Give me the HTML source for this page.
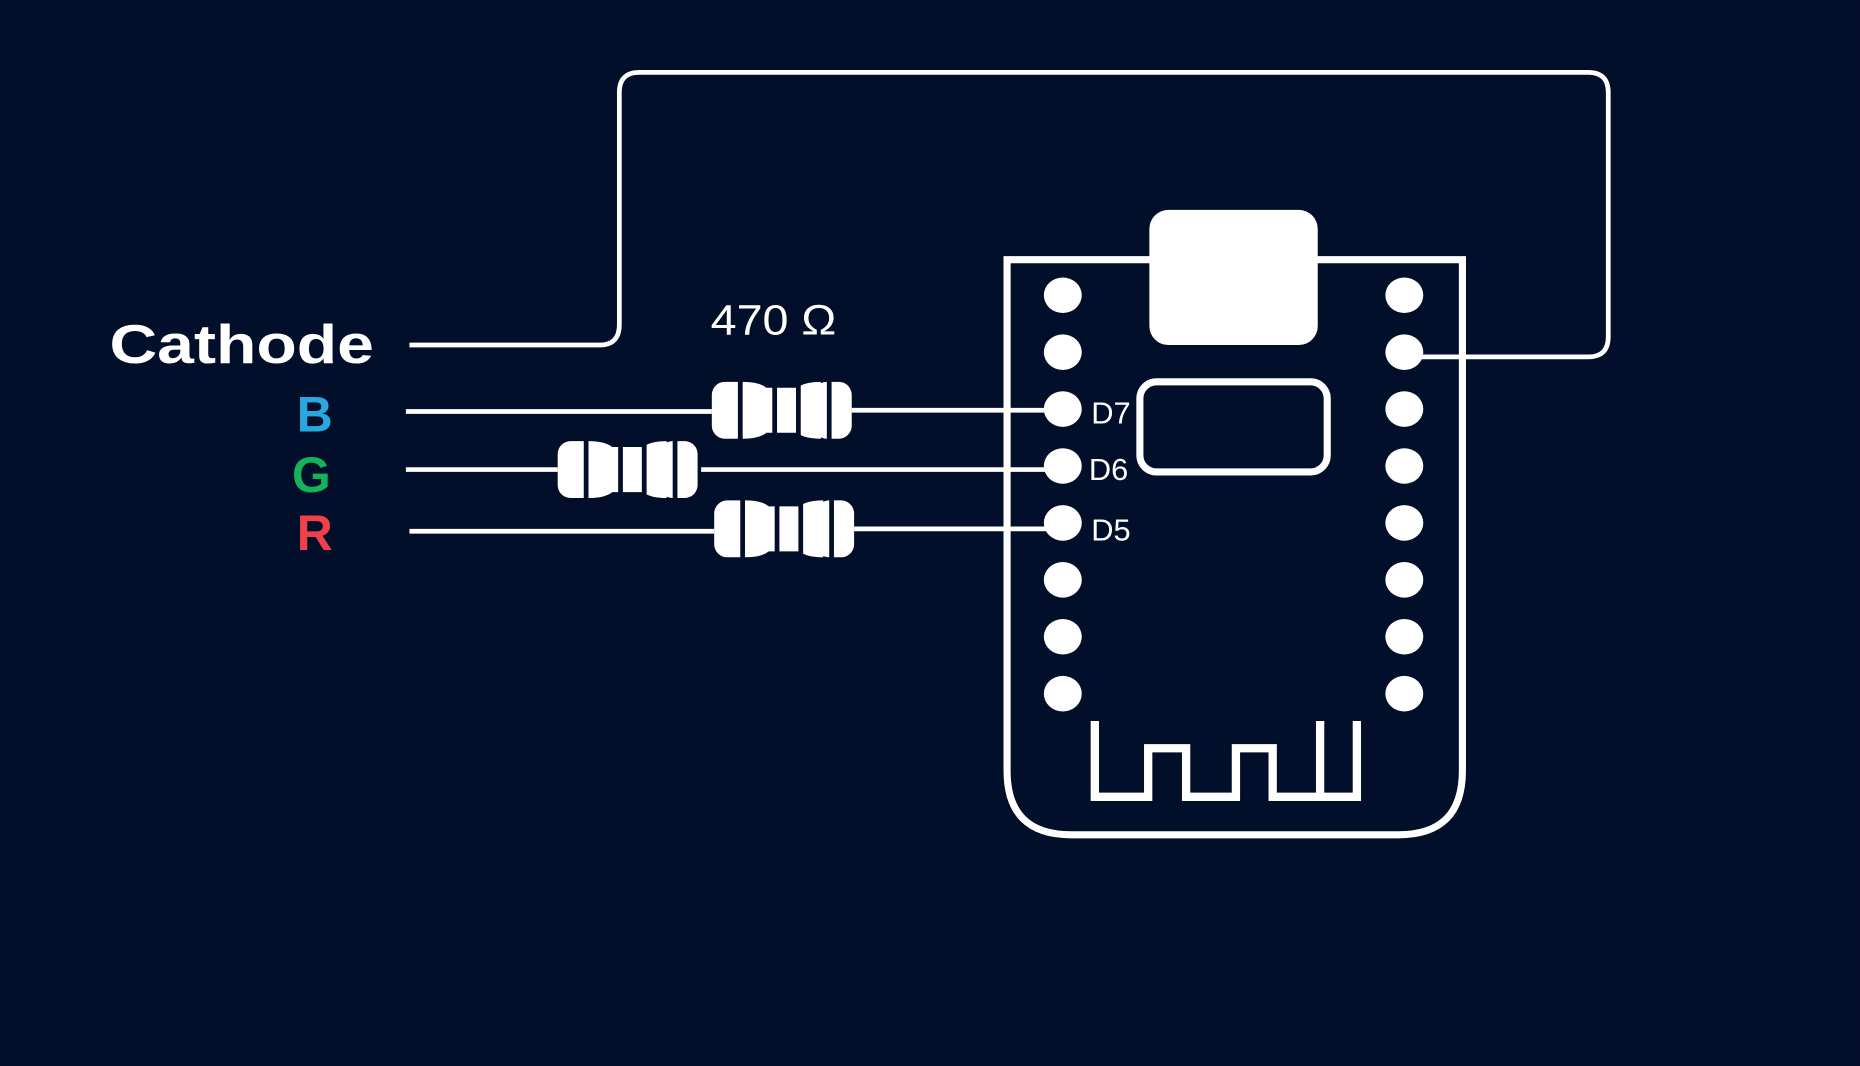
<!DOCTYPE html>
<html><head><style>html,body{margin:0;padding:0;background:#020f2a;}svg{display:block}</style></head>
<body>
<svg width="1860" height="1066" viewBox="0 0 1568 899" xmlns="http://www.w3.org/2000/svg">
<defs>
<g id="res">
  <rect x="0" y="-24" width="32" height="48" rx="11" fill="#fff"/>
  <rect x="86" y="-24" width="32" height="48" rx="11" fill="#fff"/>
  <path d="M26,-24 Q40,-24 46,-19 L72,-19 Q78,-24 92,-24 L92,24 Q78,24 72,19 L46,19 Q40,24 26,24 Z" fill="#fff"/>
  <rect x="22" y="-26" width="4" height="52" fill="#020f2a"/>
  <rect x="51" y="-26" width="4" height="52" fill="#020f2a"/>
  <rect x="71" y="-26" width="4" height="52" fill="#020f2a"/>
  <rect x="97" y="-26" width="4" height="52" fill="#020f2a"/>
</g>
</defs>
<rect width="1568" height="899" fill="#020f2a"/>
<!-- board -->
<path d="M849,219 H1233 V650 Q1233,704 1179,704 H903 Q849,704 849,650 Z" fill="none" stroke="#fff" stroke-width="6"/>
<g fill="none" stroke="#fff" stroke-width="4">
  <path d="M345,291 H505 Q522,291 522,274 V78 Q522,61 539,61 H1339 Q1356,61 1356,78 V284 Q1356,301 1339,301 H1184"/>
  <path d="M342,347 H600 M718,346 H896"/>
  <path d="M342,396 H470 M591,396 H896"/>
  <path d="M345,448 H602 M720,446 H896"/>
</g>
<use href="#res" x="600" y="346"/>
<use href="#res" x="470" y="396"/>
<use href="#res" x="602" y="446"/>
<rect x="969" y="177" width="142" height="114" rx="16" fill="#fff"/>
<rect x="961" y="322" width="158" height="76" rx="14" fill="none" stroke="#fff" stroke-width="6"/>
<g fill="#fff">
  <ellipse cx="896" cy="249" rx="16" ry="15"/><ellipse cx="896" cy="297" rx="16" ry="15"/>
  <ellipse cx="896" cy="345" rx="16" ry="15"/><ellipse cx="896" cy="393" rx="16" ry="15"/>
  <ellipse cx="896" cy="441" rx="16" ry="15"/><ellipse cx="896" cy="489" rx="16" ry="15"/>
  <ellipse cx="896" cy="537" rx="16" ry="15"/><ellipse cx="896" cy="585" rx="16" ry="15"/>
  <ellipse cx="1184" cy="249" rx="16" ry="15"/><ellipse cx="1184" cy="297" rx="16" ry="15"/>
  <ellipse cx="1184" cy="345" rx="16" ry="15"/><ellipse cx="1184" cy="393" rx="16" ry="15"/>
  <ellipse cx="1184" cy="441" rx="16" ry="15"/><ellipse cx="1184" cy="489" rx="16" ry="15"/>
  <ellipse cx="1184" cy="537" rx="16" ry="15"/><ellipse cx="1184" cy="585" rx="16" ry="15"/>
</g>
<path d="M923,608 V672 H968 V631 H1000 V672 H1042 V631 H1073 V672 H1144 V608 M1113,608 V672" fill="none" stroke="#fff" stroke-width="7"/>
<g font-family="Liberation Sans, sans-serif" fill="#fff">
  <text x="92" y="306" font-size="46" font-weight="bold" textLength="223" lengthAdjust="spacingAndGlyphs">Cathode</text>
  <text x="250" y="364" font-size="42" font-weight="bold" fill="#29a8e0">B</text>
  <text x="246" y="415" font-size="42" font-weight="bold" fill="#14b35a">G</text>
  <text x="250" y="464" font-size="42" font-weight="bold" fill="#f0404a">R</text>
  <text x="599" y="282" font-size="36" textLength="106" lengthAdjust="spacingAndGlyphs">470 Ω</text>
  <text x="920" y="357" font-size="26">D7</text>
  <text x="918" y="405" font-size="26">D6</text>
  <text x="920" y="456" font-size="26">D5</text>
</g>
</svg>
</body></html>
